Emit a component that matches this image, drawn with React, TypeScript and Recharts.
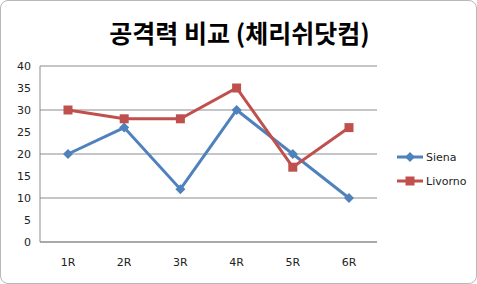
import React from "react";
import { LineChart, Line, XAxis, YAxis, CartesianGrid } from "recharts";

const rounds = ["1R", "2R", "3R", "4R", "5R", "6R"];
const siena = [20, 26, 12, 30, 20, 10];
const livorno = [30, 28, 28, 35, 17, 26];
const yTicks = [0, 5, 10, 15, 20, 25, 30, 35, 40];

const SIENA_COLOR = "#4F81BD";
const LIVORNO_COLOR = "#C0504D";

const data = rounds.map((r, i) => ({ round: r, Siena: siena[i], Livorno: livorno[i] }));

function Diamond(props: any) {
  const { cx, cy, size = 5 } = props;
  if (cx == null || cy == null) return null;
  return (
    <polygon
      points={`${cx},${cy - size} ${cx + size},${cy} ${cx},${cy + size} ${cx - size},${cy}`}
      fill={SIENA_COLOR}
    />
  );
}

function Square(props: any) {
  const { cx, cy, size = 4.5 } = props;
  if (cx == null || cy == null) return null;
  return <rect x={cx - size} y={cy - size} width={size * 2} height={size * 2} fill={LIVORNO_COLOR} />;
}

// legend drawn by hand, Excel style
function LegendBox() {
  const items = [
    { name: "Siena", color: SIENA_COLOR, Mark: Diamond },
    { name: "Livorno", color: LIVORNO_COLOR, Mark: Square },
  ];
  return (
    <svg width={80} height={50}>
      {items.map((it, i) => {
        const y = 7 + i * 24;
        return (
          <g key={it.name}>
            <line x1={0} x2={26} y1={y} y2={y} stroke={it.color} strokeWidth={3} />
            <it.Mark cx={13} cy={y} />
            <text x={29} y={y + 4} fontSize={11} fill="#222" fontFamily="'DejaVu Sans', sans-serif">
              {it.name}
            </text>
          </g>
        );
      })}
    </svg>
  );
}

export default function App() {
  const tick = { fontSize: 11, fill: "#222", fontFamily: "'DejaVu Sans', sans-serif" };
  return (
    <div
      style={{
        position: "absolute",
        left: 0,
        top: 0,
        width: 477,
        height: 284,
        background: "#fff",
        border: "1px solid #b8b8b8",
        borderRadius: 8,
        boxSizing: "border-box",
        overflow: "hidden",
      }}
    >
      <div
        style={{
          position: "absolute",
          left: 0,
          top: 14,
          width: 477,
          textAlign: "center",
          fontSize: 25,
          fontWeight: 700,
          fontFamily: "'Noto Sans CJK KR', sans-serif",
          color: "#000",
          lineHeight: "34px",
        }}
      >
        공격력 비교 (체리쉬닷컴)
      </div>
      <div style={{ position: "absolute", left: -1, top: -1 }}>
        <LineChart width={477} height={284} data={data} margin={{ top: 66, right: 100, bottom: 12, left: 0 }}>
          <CartesianGrid vertical={false} stroke="#8c8c8c" />
          <XAxis
            dataKey="round"
            tick={tick}
            tickLine={false}
            tickSize={0}
            tickMargin={16}
            height={30}
            padding={{ left: 28, right: 28 }}
            axisLine={{ stroke: "#8c8c8c" }}
          />
          <YAxis
            domain={[0, 40]}
            ticks={yTicks}
            tick={tick}
            tickLine={false}
            tickSize={0}
            tickMargin={9}
            width={40}
            axisLine={{ stroke: "#8c8c8c" }}
          />
          <Line
            type="linear"
            dataKey="Siena"
            stroke={SIENA_COLOR}
            strokeWidth={3}
            dot={<Diamond />}
            isAnimationActive={false}
          />
          <Line
            type="linear"
            dataKey="Livorno"
            stroke={LIVORNO_COLOR}
            strokeWidth={3}
            dot={<Square />}
            isAnimationActive={false}
          />
        </LineChart>
      </div>
      <div style={{ position: "absolute", left: 396, top: 149 }}>
        <LegendBox />
      </div>
    </div>
  );
}
